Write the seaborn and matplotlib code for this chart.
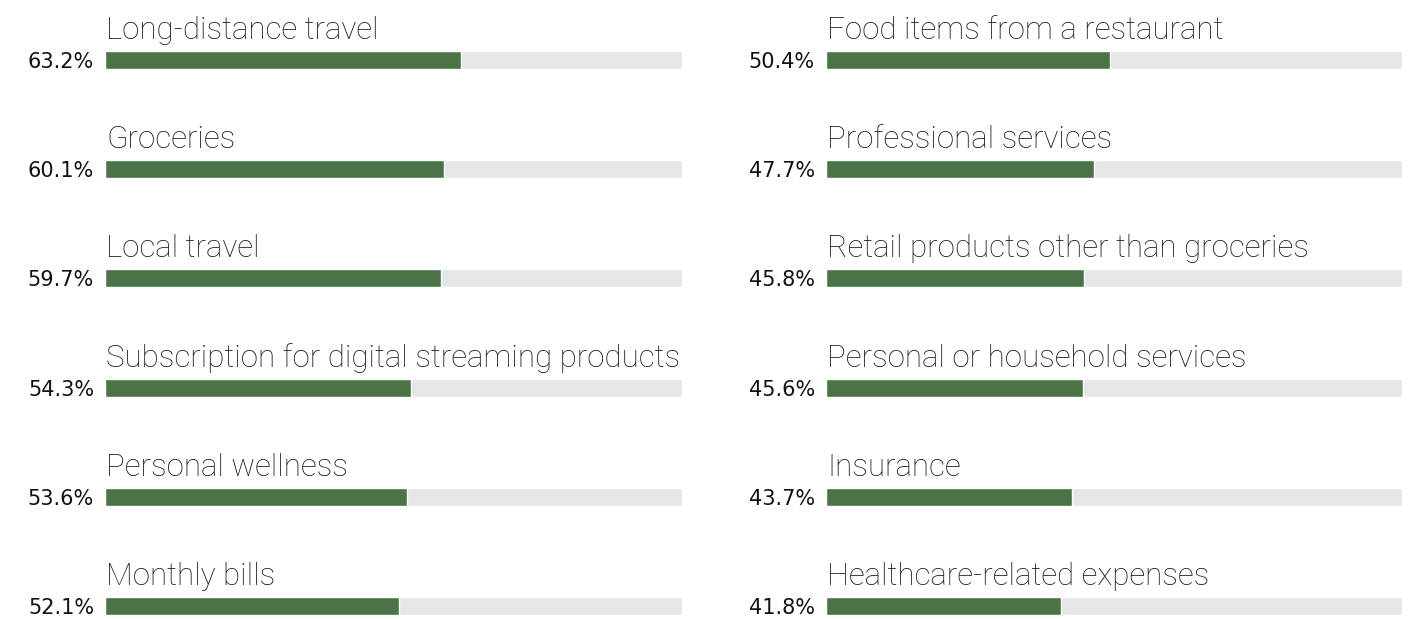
import matplotlib
matplotlib.use("Agg")
import matplotlib.pyplot as plt
import seaborn as sns
import pandas as pd

left_categories = [
    "Long-distance travel",
    "Groceries",
    "Local travel",
    "Subscription for digital streaming products",
    "Personal wellness",
    "Monthly bills",
]
left_values = [63.2, 60.1, 59.7, 54.3, 53.6, 52.1]

right_categories = [
    "Food items from a restaurant",
    "Professional services",
    "Retail products other than groceries",
    "Personal or household services",
    "Insurance",
    "Healthcare-related expenses",
]
right_values = [50.4, 47.7, 45.8, 45.6, 43.7, 41.8]

sns.set_theme(style="white")
plt.rcParams["font.family"] = ["Roboto", "DejaVu Sans"]

W, H = 1418, 620
SCALE_MAX = 102.4
GREEN = "#4a7445"
TRACK = "#e5e6e8"
ROW_PX = 109.2
FIRST_ROW_PX = 60
BAR_W = 18 / ROW_PX

fig = plt.figure(figsize=(W / 100, H / 100), dpi=100)
fig.patch.set_facecolor("white")

panels = [
    (left_categories, left_values, 105, 682),
    (right_categories, right_values, 826, 1402),
]

for cats, vals, x0, x1 in panels:
    ax = fig.add_axes([x0 / W, 0, (x1 - x0) / W, 1])
    df = pd.DataFrame({
        "category": cats,
        "value": vals,
        "track": [SCALE_MAX] * len(cats),
    })
    sns.barplot(data=df, y="category", x="track", color=TRACK, width=BAR_W,
                saturation=1, ax=ax, orient="h")
    sns.barplot(data=df, y="category", x="value", color=GREEN, width=BAR_W,
                saturation=1, ax=ax, orient="h")
    ax.set_xlim(0, SCALE_MAX)
    top = -FIRST_ROW_PX / ROW_PX
    bottom = (H - FIRST_ROW_PX) / ROW_PX
    ax.set_ylim(bottom, top)
    ax.axis("off")

    for i, (c, v) in enumerate(zip(cats, vals)):
        ax.annotate(c, xy=(0, i), xytext=(1, 21), textcoords="offset pixels",
                    ha="left", va="baseline", fontsize=22.5, fontweight="light",
                    color="#1a1a1a")
        ax.annotate(f"{v:.1f}%", xy=(0, i), xytext=(-11, -8),
                    textcoords="offset pixels", ha="right", va="baseline",
                    fontsize=15, family=["DejaVu Sans"],
                    color="#111111")

fig.savefig("out.png", dpi=100, facecolor="white")
